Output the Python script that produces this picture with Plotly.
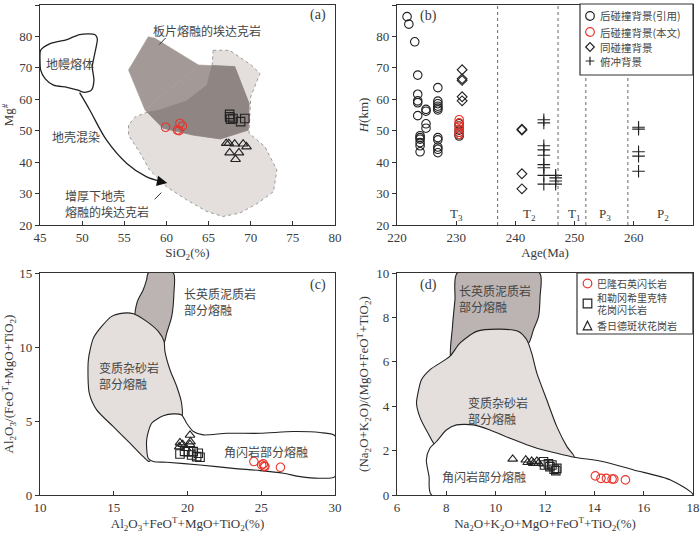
import plotly.graph_objects as go

# ---------------- Panel (a): Mg# vs SiO2 ----------------
a_red_x = [59.9, 61.3, 61.5, 61.6, 61.9]
a_red_y = [51.1, 50.2, 50.0, 52.3, 51.5]
a_sq_x = [67.5, 67.5, 67.6, 67.9, 68.8, 69.3]
a_sq_y = [55.2, 54.4, 53.7, 53.9, 52.9, 53.9]
a_tri_x = [67.1, 67.4, 68.1, 69.1, 69.5, 67.5, 68.6, 68.2]
a_tri_y = [46.0, 46.0, 45.8, 45.8, 44.9, 43.0, 43.0, 40.9]

a_mantle = [(45.08, 75.6), (46.2, 77.7), (48.2, 79.0), (49.7, 80.6), (51.5, 80.6), (51.8, 79.3),
            (51.5, 74.6), (51.2, 70.3), (51.4, 66.1), (51.1, 62.9), (50.3, 62.2), (49.5, 62.9),
            (48.2, 63.8), (46.6, 64.5), (45.6, 66.6), (45.08, 69.3), (45.0, 72.4)]
a_lower = [(65.55, 75.6), (67.5, 75.6), (70.1, 70.8), (71.1, 68.2), (70.0, 60.8), (69.8, 49.2),
           (71.7, 44.9), (73.1, 37.5), (72.7, 30.6), (70.7, 26.7), (68.7, 23.8), (66.7, 22.7),
           (64.8, 24.3), (62.4, 28.0), (60.0, 32.2), (58.0, 37.5), (56.9, 42.8), (55.5, 48.6),
           (55.5, 51.8), (56.3, 54.4), (57.6, 55.8), (59.2, 56.6), (62.4, 59.5), (64.8, 64.5),
           (65.4, 70.0)]
a_slab_A = [(57.46, 56.6), (55.5, 69.3), (57.85, 79.9), (58.64, 79.4), (63.8, 70.9)]
a_slab_B = [(63.8, 70.9), (68.1, 70.4), (69.8, 58.7), (69.7, 50.2), (66.4, 47.4), (63.2, 48.6),
            (59.6, 50.8), (57.46, 56.6)]
a_arrow = [(49.7, 62.1), (50.9, 56.6), (52.9, 47.0), (55.3, 39.6), (57.6, 35.4), (59.3, 33.9)]

# ---------------- Panel (b): H vs Age ----------------
b_post_age = [221.7, 222.0, 223.0] + [223.5] * 5 + [223.9] * 6 + [224.9] * 4 + [226.9] * 11 + [230.5] * 6
b_post_h = [86.3, 83.9, 78.3,
            67.7, 61.6, 59.5, 58.9, 54.8,
            48.4, 47.8, 47.3, 46.2, 45.2, 43.3,
            56.8, 56.2, 52.2, 50.8,
            63.7, 59.4, 58.6, 57.8, 57.2, 56.6, 47.8, 47.1, 44.8, 44.1, 43.0,
            52.2, 51.5, 50.2, 49.5, 48.8, 48.3]
b_this_age = [230.5] * 6
b_this_h = [53.5, 52.5, 51.5, 50.5, 49.5, 48.8]
b_syn_age = [231.0] * 5 + [241.1] * 4
b_syn_h = [69.4, 66.5, 66.0, 60.8, 59.5, 50.5, 50.2, 36.3, 31.5]
b_sub_age = [244.8] * 9 + [246.8] * 4 + [260.8] * 5
b_sub_h = [53.5, 52.5, 45.2, 43.9, 42.2, 39.2, 38.2, 35.8, 33.0,
           35.8, 35.0, 34.0, 33.0,
           51.1, 50.5, 43.3, 41.9, 37.1]
b_bounds = [237.0, 247.2, 251.9, 259.0]
b_period_x = [230.1, 242.4, 249.9, 255.2, 265.0]
b_period_lbl = ["T<sub>3</sub>", "T<sub>2</sub>", "T<sub>1</sub>", "P<sub>3</sub>", "P<sub>2</sub>"]
b_legend = ["后碰撞背景(引用)", "后碰撞背景(本文)", "同碰撞背景", "俯冲背景"]

# ---------------- Panel (c) ----------------
c_red_x = [24.5, 25.03, 25.14, 25.2, 25.25, 26.3]
c_red_y = [2.26, 2.03, 2.10, 1.96, 1.92, 1.87]
c_sq_x = [19.49, 20.06, 20.39, 20.28, 20.73, 20.85, 20.62, 19.8]
c_sq_y = [2.77, 2.93, 2.93, 2.70, 2.82, 2.55, 2.59, 2.95]
c_tri_x = [20.17, 19.49, 19.67, 20.17, 19.44, 19.9, 20.2]
c_tri_y = [4.05, 3.53, 3.42, 3.42, 3.26, 3.15, 3.6]

c_pelite = [(17.34, 15.0), (19.04, 15.0), (19.08, 13.65), (18.93, 12.07), (18.59, 10.94),
            (18.36, 10.2), (17.5, 10.5), (16.44, 11.8), (16.6, 13.08), (17.0, 13.87), (17.23, 14.55)]
c_gray = [(13.28, 9.14), (13.62, 10.60), (14.18, 11.39), (14.86, 12.07), (15.65, 12.29),
          (16.33, 12.25), (17.23, 11.73), (18.02, 11.05), (18.41, 10.38), (18.47, 9.70),
          (18.81, 8.46), (19.27, 7.33), (19.60, 6.20), (19.60, 5.2), (18.6, 4.6), (17.8, 3.0),
          (17.41, 2.26), (17.0, 2.59), (16.10, 3.50), (14.97, 4.62), (13.84, 5.75), (13.34, 6.88)]
c_amph = [(17.23, 3.72), (17.57, 4.85), (18.36, 5.35), (19.04, 5.48), (19.60, 5.41), (19.94, 4.85),
          (20.40, 4.29), (21.07, 4.06), (22.66, 4.17), (24.92, 4.17), (27.18, 4.29), (28.98, 4.22),
          (30.0, 4.0), (30.0, 1.25), (28.98, 1.13), (27.63, 1.24), (26.5, 1.47), (24.92, 1.65),
          (23.1, 1.80), (20.85, 2.03), (18.59, 2.21), (17.68, 2.26), (17.34, 2.48)]

# ---------------- Panel (d) ----------------
d_red_x = [14.04, 14.27, 14.49, 14.72, 14.79, 15.26]
d_red_y = [0.86, 0.75, 0.75, 0.72, 0.72, 0.68]
d_sq_x = [11.94, 11.98, 12.14, 12.20, 12.28, 12.37, 12.48, 12.44]
d_sq_y = [1.50, 1.35, 1.40, 1.28, 1.35, 1.16, 1.20, 1.10]
d_tri_x = [10.69, 11.22, 11.30, 11.46, 11.67, 11.74, 11.53]
d_tri_y = [1.62, 1.58, 1.47, 1.52, 1.52, 1.43, 1.43]
d_legend = [["巴隆石英闪长岩"], ["和勒冈希里克特", "花岗闪长岩"], ["香日德斑状花岗岩"]]

d_pelite = [(8.44, 10.0), (11.78, 10.0), (11.80, 8.95), (11.74, 8.05), (11.53, 7.44), (11.33, 6.84),
            (10.9, 6.9), (9.5, 6.9), (8.21, 6.0), (8.25, 7.59), (8.35, 8.80)]
d_gray = [(6.85, 4.59), (6.99, 5.19), (7.33, 5.64), (8.14, 6.24), (8.55, 6.84), (9.23, 7.37),
          (10.18, 7.47), (10.92, 7.37), (11.26, 6.99), (11.46, 6.39), (11.67, 5.49), (12.07, 4.29),
          (12.48, 3.08), (12.89, 2.18), (13.19, 1.70), (12.0, 1.7), (10.0, 2.2), (8.5, 2.5),
          (7.6, 2.2), (7.26, 2.78), (6.92, 3.53), (6.79, 4.14)]
d_amph = [(7.4, 0.0), (7.3, 0.83), (7.19, 1.58), (7.33, 2.11), (7.6, 2.41), (8.0, 2.93), (8.41, 3.16),
          (9.09, 3.16), (9.77, 2.93), (10.58, 2.56), (11.67, 2.11), (12.48, 1.88), (13.19, 1.70),
          (14.38, 1.50), (15.6, 1.13), (17.09, 0.68), (18.0, 0.0)]

RED = "#e8352c"
BLK = "#222222"
TXT = "#3a3a3a"
CTXT = "#454545"
SERIF = "Liberation Serif"
CJK = "Noto Sans CJK SC"
W, H = 700, 533


def PX(v):
    return v / W


def PY(v):
    return 1 - v / H


def clip(subject, clipper):
    """Sutherland-Hodgman clipping of polygon subject by convex polygon clipper."""
    n = len(clipper)
    area = sum(clipper[i][0] * clipper[(i + 1) % n][1] - clipper[(i + 1) % n][0] * clipper[i][1]
               for i in range(n))
    s = 1 if area > 0 else -1

    def inside(p, a, b):
        return s * ((b[0] - a[0]) * (p[1] - a[1]) - (b[1] - a[1]) * (p[0] - a[0])) >= 0

    def inter(p, q, a, b):
        x1, y1 = p; x2, y2 = q; x3, y3 = a; x4, y4 = b
        den = (x1 - x2) * (y3 - y4) - (y1 - y2) * (x3 - x4)
        tt = ((x1 - x3) * (y3 - y4) - (y1 - y3) * (x3 - x4)) / den
        return (x1 + tt * (x2 - x1), y1 + tt * (y2 - y1))

    out = list(subject)
    for i in range(n):
        a, b = clipper[i], clipper[(i + 1) % n]
        inp, out = out, []
        if not inp:
            break
        prev = inp[-1]
        for cur in inp:
            if inside(cur, a, b):
                if not inside(prev, a, b):
                    out.append(inter(prev, cur, a, b))
                out.append(cur)
            elif inside(prev, a, b):
                out.append(inter(prev, cur, a, b))
            prev = cur
    return out


def poly(pts_, xa, ya, fill, line_color=None, width=1.0, dash="solid", shape="linear"):
    xs = [p[0] for p in pts_] + [pts_[0][0]]
    ys = [p[1] for p in pts_] + [pts_[0][1]]
    return go.Scatter(x=xs, y=ys, mode="lines", fill="toself", fillcolor=fill,
                      line=dict(color=line_color or fill, width=width if line_color else 0.6,
                                dash=dash, shape=shape, smoothing=0.7),
                      xaxis=xa, yaxis=ya, showlegend=False, hoverinfo="skip")


def pts(x, y, xa, ya, symbol, color, size=8.5):
    return go.Scatter(x=x, y=y, mode="markers", xaxis=xa, yaxis=ya, showlegend=False,
                      marker=dict(symbol=symbol, size=size, color=color, line=dict(width=1.1, color=color)))


fig = go.Figure()

# ---- (a)
fig.add_trace(poly(a_lower, "x", "y", "#e4dfdd", "#9a9a9a", 1.0, "dot"))
fig.add_trace(poly(a_slab_A, "x", "y", "#a39a97"))
fig.add_trace(poly(a_slab_B, "x", "y", "#a39a97"))
for piece in (a_slab_A, a_slab_B):
    ov = clip(a_lower, piece)
    if len(ov) > 2:
        fig.add_trace(poly(ov, "x", "y", "#8f8684"))
fig.add_trace(poly(a_mantle, "x", "y", "rgba(255,255,255,0)", "#222", 1.3, shape="spline"))
fig.add_trace(go.Scatter(x=[p[0] for p in a_arrow], y=[p[1] for p in a_arrow], mode="lines",
                         line=dict(color="#222", width=1.3, shape="spline"), xaxis="x", yaxis="y",
                         showlegend=False, hoverinfo="skip"))
fig.add_trace(go.Scatter(x=[59.15, 59.9], y=[77.4, 79.5], mode="lines", line=dict(color="#333", width=1),
                         xaxis="x", yaxis="y", showlegend=False, hoverinfo="skip"))
fig.add_trace(go.Scatter(x=[58.6, 59.4], y=[28.2, 30.3], mode="lines", line=dict(color="#333", width=1),
                         xaxis="x", yaxis="y", showlegend=False, hoverinfo="skip"))
fig.add_trace(pts(a_red_x, a_red_y, "x", "y", "circle-open", RED))
fig.add_trace(pts(a_sq_x, a_sq_y, "x", "y", "square-open", BLK))
fig.add_trace(pts(a_tri_x, a_tri_y, "x", "y", "triangle-up-open", BLK))

# ---- (b)
fig.add_trace(pts(b_post_age, b_post_h, "x2", "y2", "circle-open", BLK))
fig.add_trace(pts(b_this_age, b_this_h, "x2", "y2", "circle-open", RED))
fig.add_trace(pts(b_syn_age, b_syn_h, "x2", "y2", "diamond-open", BLK, size=7.5))
fig.add_trace(pts(b_sub_age, b_sub_h, "x2", "y2", "cross-thin-open", BLK, size=9))

# ---- (c)
fig.add_trace(poly(c_pelite, "x3", "y3", "#bcb4b2", "#222", 1.1, shape="spline"))
fig.add_trace(poly(c_gray, "x3", "y3", "#e4dfdd", "#222", 1.1, shape="spline"))
fig.add_trace(poly(c_amph, "x3", "y3", "white", "#222", 1.1, shape="spline"))
fig.add_trace(pts(c_red_x, c_red_y, "x3", "y3", "circle-open", RED))
fig.add_trace(pts(c_sq_x, c_sq_y, "x3", "y3", "square-open", BLK))
fig.add_trace(pts(c_tri_x, c_tri_y, "x3", "y3", "triangle-up-open", BLK))

# ---- (d)
fig.add_trace(poly(d_pelite, "x4", "y4", "#bcb4b2", "#222", 1.1, shape="spline"))
fig.add_trace(poly(d_gray, "x4", "y4", "#e4dfdd", "#222", 1.1, shape="spline"))
fig.add_trace(poly(d_amph, "x4", "y4", "white", "#222", 1.1, shape="spline"))
fig.add_trace(pts(d_red_x, d_red_y, "x4", "y4", "circle-open", RED))
fig.add_trace(pts(d_sq_x, d_sq_y, "x4", "y4", "square-open", BLK))
fig.add_trace(pts(d_tri_x, d_tri_y, "x4", "y4", "triangle-up-open", BLK))


# ---- axes
def ax(domain, rng, dtick, anchor, title, ticks, standoff):
    return dict(domain=domain, range=rng, dtick=dtick, anchor=anchor, showline=True, mirror=True,
                linecolor="#333", linewidth=1.2, ticks=ticks, ticklen=4, tickcolor="#333",
                showgrid=False, zeroline=False, automargin=False,
                tickfont=dict(family=SERIF, size=13, color=TXT),
                title=dict(text=title, font=dict(family=SERIF, size=13, color=TXT), standoff=standoff))


XL = [PX(40), PX(335)]
XR = [PX(397), PX(693)]
YT = [PY(225), PY(5)]
YB = [PY(495), PY(273)]

fig.update_layout(
    width=W, height=H, margin=dict(l=0, r=0, t=0, b=0),
    paper_bgcolor="white", plot_bgcolor="white", showlegend=False,
    xaxis=ax(XL, [45, 80], 5, "y", "SiO<sub>2</sub>(%)", "inside", 4),
    yaxis=ax(YT, [20, 90], 10, "x", "Mg<sup>#</sup>", "outside", 4),
    xaxis2=ax(XR, [220, 270], 10, "y2", "Age(Ma)", "inside", 4),
    yaxis2=ax(YT, [20, 90], 10, "x2", "<i>H</i>(km)", "outside", 4),
    xaxis3=ax(XL, [10, 30], 5, "y3", "Al<sub>2</sub>O<sub>3</sub>+FeO<sup>T</sup>+MgO+TiO<sub>2</sub>(%)", "inside", 4),
    yaxis3=ax(YB, [0, 15], 5, "x3", "Al<sub>2</sub>O<sub>3</sub>/(FeO<sup>T</sup>+MgO+TiO<sub>2</sub>)", "outside", 4),
    xaxis4=ax(XR, [6, 18], 2, "y4", "Na<sub>2</sub>O+K<sub>2</sub>O+MgO+FeO<sup>T</sup>+TiO<sub>2</sub>(%)", "inside", 4),
    yaxis4=ax(YB, [0, 10], 2, "x4", "(Na<sub>2</sub>O+K<sub>2</sub>O)/(MgO+FeO<sup>T</sup>+TiO<sub>2</sub>)", "outside", 4),
)

# ---- (b) period boundaries
for bx in b_bounds:
    fig.add_shape(type="line", x0=bx, x1=bx, y0=0, y1=1, xref="x2", yref="y2 domain",
                  line=dict(color="#666", width=1, dash="dot"))

# ---- annotations
ann = []


def t(x, y, text, xr, yr, size=12, fam=CJK, xanchor="center", align="center", color=CTXT):
    ann.append(dict(x=x, y=y, text=text, xref=xr, yref=yr, showarrow=False, xanchor=xanchor,
                    align=align, font=dict(family=fam, size=size, color=color)))


t(78.0, 86.7, "(a)", "x", "y", 14, SERIF, color=TXT)
t(64.85, 82.0, "板片熔融的埃达克岩", "x", "y")
t(48.6, 71.4, "地幔熔体", "x", "y")
t(49.3, 48.3, "地壳混染", "x", "y")
t(47.77, 26.7, "增厚下地壳<br>熔融的埃达克岩", "x", "y", xanchor="left", align="left")

t(225.4, 86.6, "(b)", "x2", "y2", 14, SERIF, color=TXT)
for px_, lbl in zip(b_period_x, b_period_lbl):
    t(px_, 23.3, lbl, "x2", "y2", 13, SERIF, color=TXT)

t(28.87, 14.2, "(c)", "x3", "y3", 14, SERIF, color=TXT)
t(19.6, 13.08, "长英质泥质岩<br>部分熔融", "x3", "y3", xanchor="left", align="left")
t(13.84, 8.08, "变质杂砂岩<br>部分熔融", "x3", "y3", xanchor="left", align="left")
t(22.32, 2.93, "角闪岩部分熔融", "x3", "y3", xanchor="left")

t(7.26, 9.47, "(d)", "x4", "y4", 14, SERIF, color=TXT)
t(8.44, 8.83, "长英质泥质岩<br>部分熔融", "x4", "y4", xanchor="left", align="left")
t(8.79, 3.8, "变质杂砂岩<br>部分熔融", "x4", "y4", xanchor="left", align="left")
t(7.74, 0.83, "角闪岩部分熔融", "x4", "y4", xanchor="left")

# arrowhead of crustal contamination path
ann.append(dict(x=60.1, y=33.4, ax=59.0, ay=34.0, xref="x", yref="y", axref="x", ayref="y",
                showarrow=True, arrowhead=2, arrowsize=1.6, arrowwidth=1.3, arrowcolor="#111", text=""))


# ---- hand-drawn legend boxes (paper coordinates from pixels)
def sym(kind, cx, cy, color, r=4.3):
    x0, x1, y0, y1 = PX(cx - r), PX(cx + r), PY(cy + r), PY(cy - r)
    base = dict(xref="paper", yref="paper", line=dict(color=color, width=1.2), fillcolor="rgba(0,0,0,0)")
    if kind == "circle":
        fig.add_shape(type="circle", x0=x0, x1=x1, y0=y0, y1=y1, **base)
    elif kind == "square":
        fig.add_shape(type="rect", x0=x0, x1=x1, y0=y0, y1=y1, **base)
    elif kind == "triangle":
        p = f"M {PX(cx)} {PY(cy - r)} L {x1} {y0} L {x0} {y0} Z"
        fig.add_shape(type="path", path=p, **base)
    elif kind == "diamond":
        p = f"M {PX(cx)} {y1} L {x1} {PY(cy)} L {PX(cx)} {y0} L {x0} {PY(cy)} Z"
        fig.add_shape(type="path", path=p, **base)
    elif kind == "plus":
        p = f"M {x0} {PY(cy)} L {x1} {PY(cy)} M {PX(cx)} {y0} L {PX(cx)} {y1}"
        fig.add_shape(type="path", path=p, **base)


def lab(px_, py_, text, size=11):
    ann.append(dict(x=PX(px_), y=PY(py_), xref="paper", yref="paper", text=text, showarrow=False,
                    xanchor="left", yanchor="middle", font=dict(family=CJK, size=size, color=CTXT)))


# legend (b)
fig.add_shape(type="rect", xref="paper", yref="paper", x0=PX(580), x1=PX(693), y0=PY(75), y1=PY(4),
              line=dict(color="#333", width=1.2), fillcolor="white")
b_sym = [("circle", BLK), ("circle", RED), ("diamond", BLK), ("plus", BLK)]
b_rows = [16, 32, 47, 61]
for (k, c), ry, lbl in zip(b_sym, b_rows, b_legend):
    sym(k, 590, ry, c)
    lab(598, ry, lbl, 10.5)

# legend (d)
fig.add_shape(type="rect", xref="paper", yref="paper", x0=PX(577), x1=PX(693), y0=PY(334), y1=PY(273),
              line=dict(color="#333", width=1.2), fillcolor="white")
d_sym = [("circle", RED), ("square", BLK), ("triangle", BLK)]
d_rows = [283.5, 303.5, 325.5]
for (k, c), ry, lines in zip(d_sym, d_rows, d_legend):
    sym(k, 587.5, ry, c)
    n = len(lines)
    for i, ln in enumerate(lines):
        lab(595, ry + (i - (n - 1) / 2) * 11.5, ln, 10)

fig.update_layout(annotations=ann)
# remove the browser's default 8px page margin so the figure fills the window exactly
fig.write_html("out.html", config={"displayModeBar": False},
               post_script="document.body.style.margin='0';document.body.style.overflow='hidden';")
